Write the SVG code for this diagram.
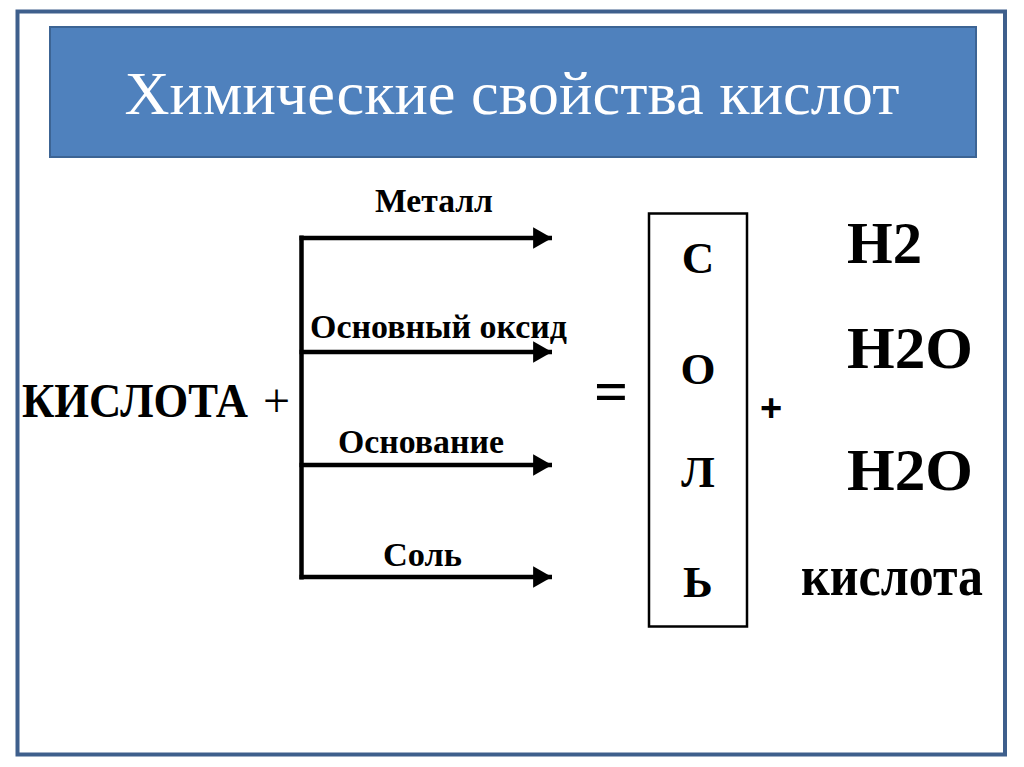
<svg xmlns="http://www.w3.org/2000/svg" width="1024" height="767" viewBox="0 0 1024 767">
<defs>
<style>
.t{font-family:"Liberation Serif","Times New Roman",serif;font-weight:bold;fill:#000}
.lb{font-size:34px}
.ln{stroke:#000;stroke-width:4.5;fill:none}
</style>
<marker id="ah" markerWidth="5" markerHeight="5" refX="4.2" refY="2.4" orient="auto" markerUnits="strokeWidth">
<path d="M0,0 L4.2,2.4 L0,4.8 Z" fill="#000"/>
</marker>
</defs>
<rect width="1024" height="767" fill="#fff"/>
<rect id="frame" x="17.5" y="11.5" width="987.5" height="743" fill="#fff" stroke="#3e5f8c" stroke-width="4"/>
<g id="title">
<rect x="50" y="27" width="926" height="130" fill="#4f81bd" stroke="#3c6494" stroke-width="2"/>
<text x="512" y="114" text-anchor="middle" font-family="Liberation Serif, serif" font-size="62" fill="#fff" textLength="775" lengthAdjust="spacingAndGlyphs">Химические свойства кислот</text>
</g>
<g id="acid">
<text class="t" x="22" y="417" font-size="48" textLength="226" lengthAdjust="spacingAndGlyphs">КИСЛОТА</text>
<text x="263" y="417" font-family="Liberation Serif, serif" font-size="48">+</text>
</g>
<g id="connectors">
<line class="ln" x1="301.5" y1="235.5" x2="301.5" y2="579.5"/>
<line class="ln" x1="299.5" y1="238" x2="552" y2="238" marker-end="url(#ah)"/>
<line class="ln" x1="299.5" y1="352" x2="552" y2="352" marker-end="url(#ah)"/>
<line class="ln" x1="299.5" y1="465" x2="552" y2="465" marker-end="url(#ah)"/>
<line class="ln" x1="299.5" y1="577" x2="552" y2="577" marker-end="url(#ah)"/>
</g>
<g id="labels">
<text class="t lb" x="375" y="212" textLength="118" lengthAdjust="spacingAndGlyphs">Металл</text>
<text class="t lb" x="310" y="338" textLength="257" lengthAdjust="spacingAndGlyphs">Основный оксид</text>
<text class="t lb" x="338" y="453" textLength="166" lengthAdjust="spacingAndGlyphs">Основание</text>
<text class="t lb" x="383" y="566" textLength="79" lengthAdjust="spacingAndGlyphs">Соль</text>
</g>
<g id="equals">
<text class="t" x="611" y="411" font-size="60" text-anchor="middle">=</text>
</g>
<g id="salt">
<rect x="649" y="213.5" width="98" height="413" fill="none" stroke="#000" stroke-width="2.5"/>
<text class="t" x="698" y="273" font-size="45" text-anchor="middle">С</text>
<text class="t" x="698" y="384" font-size="45" text-anchor="middle">О</text>
<text class="t" x="698" y="487" font-size="45" text-anchor="middle">Л</text>
<text class="t" x="698" y="597" font-size="45" text-anchor="middle">Ь</text>
</g>
<g id="plus">
<text x="771" y="421" font-family="Liberation Sans, sans-serif" font-weight="bold" font-size="38" text-anchor="middle">+</text>
</g>
<g id="products">
<text class="t" x="847" y="263" font-size="60" textLength="75" lengthAdjust="spacingAndGlyphs">H2</text>
<text class="t" x="847" y="368" font-size="60" textLength="126" lengthAdjust="spacingAndGlyphs">H2O</text>
<text class="t" x="847" y="490" font-size="60" textLength="126" lengthAdjust="spacingAndGlyphs">H2O</text>
<text class="t" x="801" y="595" font-size="56" textLength="182" lengthAdjust="spacingAndGlyphs">кислота</text>
</g>
</svg>
